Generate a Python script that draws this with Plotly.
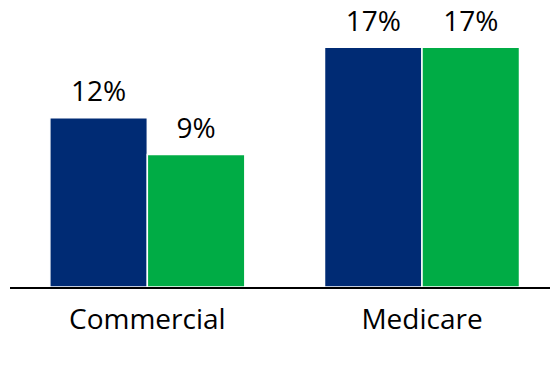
import plotly.graph_objects as go

categories = ["Commercial", "Medicare"]
series_a = [0.12, 0.17]
series_b = [0.094, 0.17]
navy = "#002B74"
green = "#00AC45"

fig = go.Figure()
for i, (vals, col) in enumerate([(series_a, navy), (series_b, green)]):
    fig.add_trace(go.Bar(
        x=categories, y=vals, offsetgroup=str(i),
        marker=dict(color=col, line=dict(color="white", width=1.5)),
        hoverinfo="skip",
    ))
for i, vals in enumerate([series_a, series_b]):
    fig.add_trace(go.Scatter(
        x=categories, y=vals, offsetgroup=str(i),
        mode="markers+text", text=[f"{v:.0%}" for v in vals],
        textposition="top center",
        marker=dict(size=14, opacity=0),
        textfont=dict(family="Open Sans", size=28, color="black"),
        cliponaxis=False, hoverinfo="skip",
    ))

fig.update_layout(
    barmode="group", bargap=0.29, bargroupgap=0,
    scattermode="group",
    width=550, height=385,
    margin=dict(l=10, r=0, t=5, b=98),
    paper_bgcolor="white", plot_bgcolor="white",
    showlegend=False,
    font=dict(family="Open Sans", size=28, color="black"),
    xaxis=dict(range=[-0.5, 1.466], showline=True, linecolor="black", linewidth=1.5,
               ticks="outside", ticklen=7, tickcolor="rgba(0,0,0,0)",
               tickfont=dict(family="Open Sans", size=28, color="black")),
    yaxis=dict(range=[0, 0.2], visible=False, showgrid=False, zeroline=False),
)
fig.write_html("out.html", config={"displayModeBar": False},
               post_script="document.body.style.margin='0';document.body.style.padding='0';")
